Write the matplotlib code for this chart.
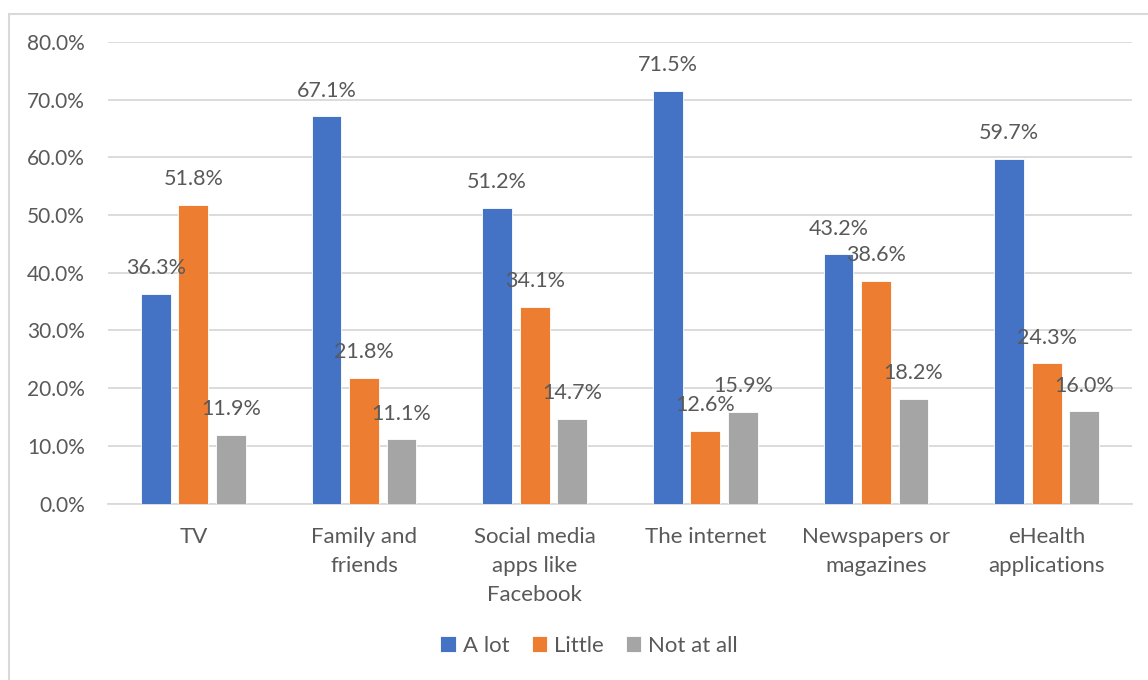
import matplotlib
matplotlib.use("Agg")
import matplotlib.pyplot as plt
import numpy as np
from matplotlib.patches import Rectangle

categories = ["TV", "Family and\nfriends", "Social media\napps like\nFacebook",
              "The internet", "Newspapers or\nmagazines", "eHealth\napplications"]
series_names = ["A lot", "Little", "Not at all"]
a_lot = [36.3, 67.1, 51.2, 71.5, 43.2, 59.7]
little = [51.8, 21.8, 34.1, 12.6, 38.6, 24.3]
not_at_all = [11.9, 11.1, 14.7, 15.9, 18.2, 16.0]
yticks = [0, 10, 20, 30, 40, 50, 60, 70, 80]

colors = ["#4472C4", "#ED7D31", "#A5A5A5"]
text_color = "#595959"
plt.rcParams['font.family'] = ['Lato', 'DejaVu Sans']

W, H = 1148, 680
fig = plt.figure(figsize=(W / 100, H / 100), dpi=100)
ax = fig.add_axes([108 / W, 1 - 503.5 / H, (1132 - 108) / W, (503.5 - 42) / H])

x = np.arange(len(categories))
width = 0.174
step = 0.22
fs = 15.5
for i, (vals, name) in enumerate(zip([a_lot, little, not_at_all], series_names)):
    pos = x + (i - 1) * step
    ax.bar(pos, vals, width, color=colors[i], label=name, zorder=3,
           edgecolor="white", linewidth=0.6)
    for px, v in zip(pos, vals):
        ax.annotate(f"{v:.1f}%", (px, v), xytext=(0, 18.5), textcoords="offset points",
                    ha="center", va="center", fontsize=fs, color=text_color, zorder=4)

ax.set_xlim(-0.5, len(categories) - 0.5)
ax.set_ylim(0, 80)
ax.set_yticks(yticks)
ax.set_yticklabels([f"{t:.1f}%" for t in yticks], fontsize=15, color=text_color)
ax.set_xticks(x)
ax.set_xticklabels(categories, fontsize=fs + 0.5, color=text_color, linespacing=1.55, va="top")
ax.tick_params(axis="both", length=0)
ax.tick_params(axis="x", pad=17)
ax.tick_params(axis="y", pad=16.5)
ax.grid(axis="y", color="#D9D9D9", linewidth=1.3, zorder=0)
for s in ["top", "right", "left"]:
    ax.spines[s].set_visible(False)
ax.spines["bottom"].set_color("#D9D9D9")
ax.spines["bottom"].set_linewidth(1.3)

leg = fig.legend(loc="center", bbox_to_anchor=(589 / W, 1 - 646 / H), ncol=3, frameon=False,
                 fontsize=fs + 0.5, handlelength=0.7, handleheight=0.7, handletextpad=0.3,
                 columnspacing=1.0)
for t in leg.get_texts():
    t.set_color(text_color)

# chart frame
fig.patches.append(Rectangle((8.5 / W, -0.1), 1.2, 1 - 13.5 / H + 0.1, transform=fig.transFigure,
                             fill=False, edgecolor="#D9D9D9", linewidth=1.5))

fig.savefig("out.png", dpi=100, facecolor="white")
